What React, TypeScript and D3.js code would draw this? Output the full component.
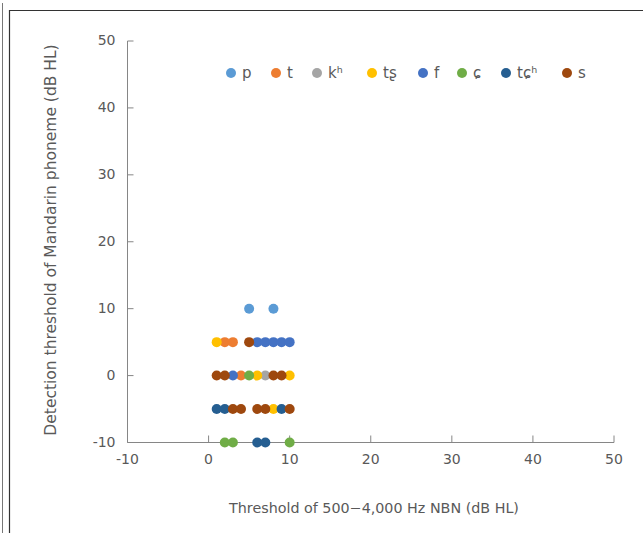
import React, { useEffect, useRef } from "react";
import * as d3 from "d3";

const seriesNames = ["p", "t", "kʰ", "tʂ", "f", "ɕ", "tɕʰ", "s"];
const seriesColors = ["#5B9BD5", "#ED7D31", "#A5A5A5", "#FFC000", "#4472C4", "#70AD47", "#255E91", "#9E480E"];

// [noise threshold, phoneme threshold] per phoneme
const pPts = [[5, 10], [8, 10]];
const tPts = [[2, 5], [3, 5], [4, 0]];
const khPts = [[7, 0]];
const tsPts = [[1, 5], [6, 0], [10, 0], [8, -5]];
const fPts = [[6, 5], [7, 5], [8, 5], [9, 5], [10, 5], [3, 0]];
const xPts = [[5, 0], [2, -10], [3, -10], [10, -10]];
const tchPts = [[1, -5], [2, -5], [9, -5], [6, -10], [7, -10]];
const sPts = [[5, 5], [1, 0], [2, 0], [8, 0], [9, 0], [3, -5], [4, -5], [6, -5], [7, -5], [10, -5]];

const xTicks = [-10, 0, 10, 20, 30, 40, 50];
const yTicks = [-10, 0, 10, 20, 30, 40, 50];

const App = () => {
  const svgRef = useRef<SVGSVGElement>(null);

  useEffect(() => {
    const svg = d3.select(svgRef.current);
    svg.selectAll("*").remove();

    const width = 643;
    const height = 533;
    const font = "'DejaVu Sans', sans-serif";
    const textColor = "#595959";
    const axisColor = "#868686";

    const x = d3.scaleLinear().domain([-10, 50]).range([127.5, 614]);
    const y = d3.scaleLinear().domain([-10, 50]).range([442.5, 41]);

    svg.attr("width", width).attr("height", height);

    // frame
    svg.append("line")
      .attr("x1", 2.5).attr("x2", 2.5).attr("y1", 3).attr("y2", height)
      .attr("stroke", "#777").attr("stroke-width", 1);
    svg.append("path")
      .attr("d", `M9.5,${height} L9.5,10.5 L${width},10.5`)
      .attr("fill", "none").attr("stroke", "#333").attr("stroke-width", 1.2);

    // y axis
    const yAxis = svg.append("g").attr("transform", `translate(${x(-10)},0)`);
    yAxis.append("line")
      .attr("y1", y(50)).attr("y2", y(-10))
      .attr("stroke", axisColor).attr("stroke-width", 1);
    yAxis.selectAll("line.tick")
      .data(yTicks)
      .enter()
      .append("line")
      .attr("class", "tick")
      .attr("x1", 0).attr("x2", 6)
      .attr("y1", d => y(d)).attr("y2", d => y(d))
      .attr("stroke", axisColor);
    yAxis.selectAll("text")
      .data(yTicks)
      .enter()
      .append("text")
      .attr("x", -12)
      .attr("y", d => y(d))
      .attr("dy", "0.3em")
      .attr("text-anchor", "end")
      .style("font-family", font)
      .style("font-size", "14px")
      .attr("fill", textColor)
      .text(d => d);

    // x axis
    const xAxis = svg.append("g").attr("transform", `translate(0,${y(-10)})`);
    xAxis.append("line")
      .attr("x1", x(-10)).attr("x2", x(50))
      .attr("stroke", axisColor).attr("stroke-width", 1);
    xAxis.selectAll("line.tick")
      .data(xTicks)
      .enter()
      .append("line")
      .attr("class", "tick")
      .attr("x1", d => x(d)).attr("x2", d => x(d))
      .attr("y1", 0).attr("y2", -7)
      .attr("stroke", axisColor);
    xAxis.selectAll("text")
      .data(xTicks)
      .enter()
      .append("text")
      .attr("x", d => x(d))
      .attr("y", 21)
      .attr("text-anchor", "middle")
      .style("font-family", font)
      .style("font-size", "14px")
      .attr("fill", textColor)
      .text(d => d);

    // axis titles
    svg.append("text")
      .attr("x", 374)
      .attr("y", 513)
      .attr("text-anchor", "middle")
      .style("font-family", font)
      .style("font-size", "14.3px")
      .attr("fill", textColor)
      .text("Threshold of 500\u22124,000 Hz NBN (dB HL)");

    svg.append("text")
      .attr("transform", `translate(56,${240}) rotate(-90)`)
      .attr("text-anchor", "middle")
      .style("font-family", font)
      .style("font-size", "15.5px")
      .attr("fill", textColor)
      .text("Detection threshold of Mandarin phoneme (dB HL)");

    // points
    const allSeries = [pPts, tPts, khPts, tsPts, fPts, xPts, tchPts, sPts];
    allSeries.forEach((pts, i) => {
      svg.append("g")
        .selectAll("circle")
        .data(pts)
        .enter()
        .append("circle")
        .attr("cx", d => x(d[0]))
        .attr("cy", d => y(d[1]))
        .attr("r", 5)
        .attr("fill", seriesColors[i]);
    });

    // legend
    const legendX = [231, 276, 317, 372, 423, 462, 506, 567];
    const legend = svg.append("g").attr("transform", "translate(0,73)");
    seriesNames.forEach((name, i) => {
      legend.append("circle")
        .attr("cx", legendX[i])
        .attr("cy", 0)
        .attr("r", 5)
        .attr("fill", seriesColors[i]);
      legend.append("text")
        .attr("x", legendX[i] + 11)
        .attr("y", 0)
        .attr("dy", "0.35em")
        .style("font-family", font)
        .style("font-size", "15px")
        .attr("fill", textColor)
        .text(name);
    });
  }, []);

  return <svg ref={svgRef} style={{ position: "absolute", left: 0, top: 0 }} />;
};

export default App;
